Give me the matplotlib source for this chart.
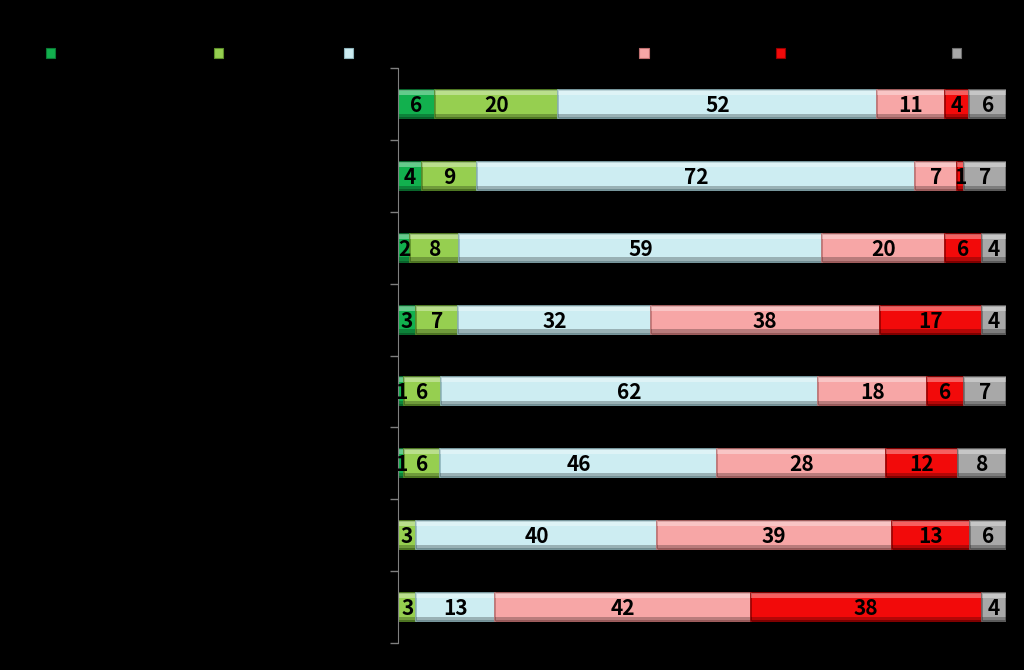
import numpy as np
import matplotlib.pyplot as plt
from matplotlib.patches import Rectangle

# rows top to bottom, six answer groups each (percent)
rows = ["1", "2", "3", "4", "5", "6", "7", "8"]
s1 = [6, 4, 2, 3, 1, 1, 0, 0]
s2 = [20, 9, 8, 7, 6, 6, 3, 3]
s3 = [52, 72, 59, 32, 62, 46, 40, 13]
s4 = [11, 7, 20, 38, 18, 28, 39, 42]
s5 = [4, 1, 6, 17, 6, 12, 13, 38]
s6 = [6, 7, 4, 4, 7, 8, 6, 4]

series = [s1, s2, s3, s4, s5, s6]
colors = ["#12B04E", "#96CF50", "#CDEDF2", "#F7A6A6", "#F20A0A", "#A8A8A8"]
edges = ["#0B7A35", "#5E8F2A", "#8FB5BC", "#C07070", "#9A0000", "#6E6E6E"]
legend_x = [0.049, 0.213, 0.340, 0.629, 0.762, 0.934]

data = np.array(series, dtype=float)
share = data / data.sum(axis=0) * 100  # bars are drawn as 100% stacked

fig = plt.figure(figsize=(10.24, 6.7), dpi=100, facecolor="black")
ax = fig.add_axes([0.3887, 0.0403, 0.5938, 0.8582])
ax.set_facecolor("black")

y = np.arange(len(rows))
h = 0.39
left = np.zeros(len(rows))
for i in range(len(series)):
    w = share[i]
    ax.barh(y, w, left=left, height=h, color=colors[i], edgecolor=edges[i], linewidth=1.2)
    # bevel: light top strip, dark bottom strip
    ax.barh(y - h / 2 + 0.035, w, left=left, height=0.07, color="white", alpha=0.35, linewidth=0)
    ax.barh(y + h / 2 - 0.03, w, left=left, height=0.06, color="black", alpha=0.25, linewidth=0)
    for j in range(len(rows)):
        if series[i][j] > 0:
            ax.text(left[j] + w[j] / 2, y[j] + 0.02, str(series[i][j]), ha="center", va="center",
                    fontsize=15, fontweight="bold", color="black", family=["Noto Sans CJK JP", "DejaVu Sans"])
    left += w

ax.set_xlim(0, 100)
ax.set_ylim(len(rows) - 0.5, -0.5)
ax.set_xticks([])
ax.set_yticks([])
ax.set_yticks(np.arange(-0.5, len(rows)), minor=True)
ax.tick_params(axis="y", which="minor", length=6, color="#7F7F7F", width=1)
for sp in ["top", "right", "bottom"]:
    ax.spines[sp].set_visible(False)
ax.spines["left"].set_color("#7F7F7F")

# legend swatches
for i in range(len(series)):
    fig.add_artist(Rectangle((legend_x[i] - 0.0045, 0.914), 0.009, 0.014, transform=fig.transFigure,
                             facecolor=colors[i], edgecolor=edges[i], linewidth=0.8))

fig.savefig("out.png", dpi=100, facecolor="black")
